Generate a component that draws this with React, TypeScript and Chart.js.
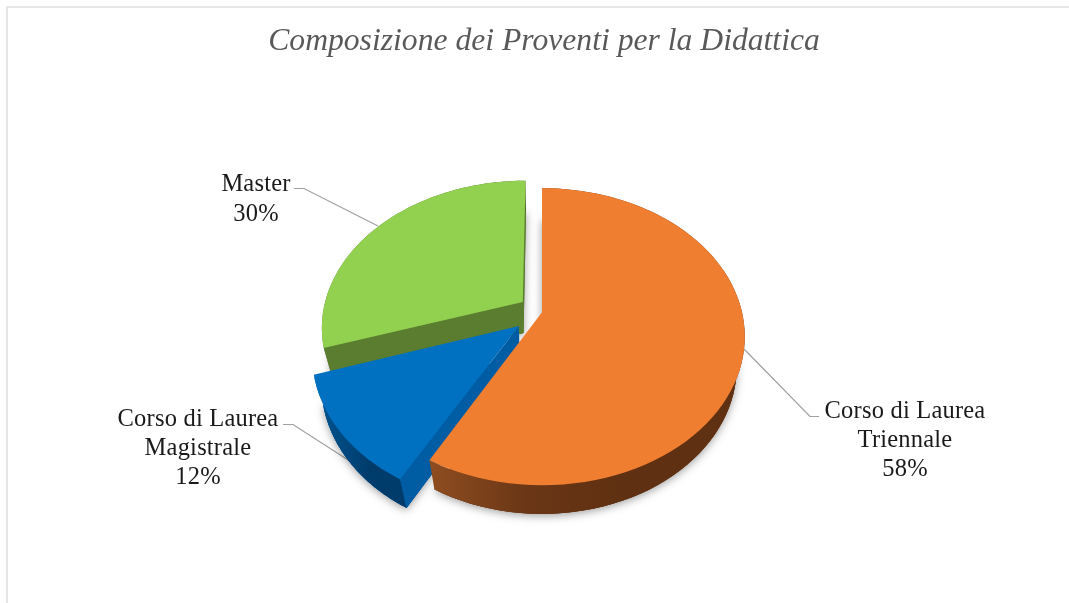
import React, { useEffect, useRef } from "react";
import { Chart, registerables } from "chart.js";

Chart.register(...registerables);

const categories = ["Corso di Laurea Triennale", "Corso di Laurea Magistrale", "Master"];
const labelLines = [["Corso di Laurea", "Triennale"], ["Corso di Laurea", "Magistrale"], ["Master"]];
const shares = [58, 12, 30];
const explode = [0, 0.148, 0.12];
const topColors = ["#EF7E31", "#0070C0", "#92D050"];
const cutColors = ["#6B3716", "#005CA3", "#5A7D2F"];
const wallStops = [
  ["#8F4D20", "#6B3716", "#5F3011"],
  ["#00548F", "#004A80", "#003C6B"],
  ["#5A7D2F", "#5A7D2F", "#4E6D28"],
];
const paintOrder = [2, 1, 0];

const FONT = '"Liberation Serif", serif';
const TITLE = "Composizione dei Proventi per la Didattica";

const K = 0.165, Q = 0.04, DEPTH = 32, SQUASH = 0.7225, SHIFT_X = -2;

const pie3d = {
  id: "pie3d",
  beforeDraw(chart: any) {
    const c = chart.ctx;
    c.save();
    c.fillStyle = "#ffffff";
    c.fillRect(0, 0, chart.width, chart.height);
    c.fillStyle = "#E6E6E6";
    c.fillRect(6, 6, 2, chart.height - 6);
    c.fillRect(6, 6, chart.width - 6, 2);
    c.restore();
  },
  beforeDatasetsDraw(chart: any) {
    const c = chart.ctx;
    const arcs = chart.getDatasetMeta(0).data;
    const first = arcs[0];
    const cx = first.x + SHIFT_X, cy = first.y, R = first.outerRadius;
    const proj = (u: number, v: number, z: number) => {
      const w = 1 - K * v + Q * z;
      return [cx + (R * u) / w, cy + (R * SQUASH * v + DEPTH * z) / w];
    };
    const poly = (pts: number[][]) => {
      c.beginPath();
      pts.forEach((p, i) => (i ? c.lineTo(p[0], p[1]) : c.moveTo(p[0], p[1])));
      c.closePath();
    };

    // leader lines
    c.save();
    c.strokeStyle = "#A0A0A0";
    c.lineWidth = 1.2;
    [
      [[744, 349], [810, 416.5], [819, 416.5]],
      [[352, 462.5], [293, 424.5], [283, 424.5]],
      [[378, 226], [304, 188.5], [294, 188.5]],
    ].forEach((l) => {
      c.beginPath();
      l.forEach((p, i) => (i ? c.lineTo(p[0], p[1]) : c.moveTo(p[0], p[1])));
      c.stroke();
    });
    c.restore();

    paintOrder.forEach((i) => {
      const el = arcs[i];
      const a0 = el.startAngle, a1 = el.endAngle;
      const mid = (a0 + a1) / 2;
      const ou = Math.cos(mid) * explode[i], ov = Math.sin(mid) * explode[i];
      const ring = (z: number) => {
        const pts: number[][] = [];
        const n = 80;
        for (let s = 0; s <= n; s++) {
          const a = a0 + ((a1 - a0) * s) / n;
          pts.push(proj(ou + Math.cos(a), ov + Math.sin(a), z));
        }
        return pts;
      };
      const top = ring(0), bottom = ring(1);
      const apexT = proj(ou, ov, 0), apexB = proj(ou, ov, 1);
      const topFace = [apexT, ...top];
      const botFace = [apexB, ...bottom];
      const outer = [...top, ...bottom.slice().reverse()];

      c.save();
      c.shadowColor = "rgba(0,0,0,0.38)";
      c.shadowBlur = 9;
      c.shadowOffsetY = 2;
      c.fillStyle = cutColors[i];
      poly(botFace); c.fill();
      c.restore();

      c.fillStyle = cutColors[i];
      poly(botFace); c.fill();
      const xs = outer.map((p) => p[0]);
      const g = c.createLinearGradient(Math.min(...xs), 0, Math.max(...xs), 0);
      g.addColorStop(0, wallStops[i][0]);
      g.addColorStop(0.3, wallStops[i][1]);
      g.addColorStop(0.6, wallStops[i][2]);
      g.addColorStop(1, wallStops[i][2]);
      c.fillStyle = g;
      poly(outer); c.fill();

      c.fillStyle = cutColors[i];
      if (Math.sin(a0 - Math.PI / 2) > 0.01) {
        poly([apexT, top[0], bottom[0], apexB]); c.fill();
      }
      if (Math.sin(a1 + Math.PI / 2) > 0.01) {
        poly([apexT, top[top.length - 1], bottom[bottom.length - 1], apexB]); c.fill();
      }
      c.fillStyle = el.options.backgroundColor;
      poly(topFace); c.fill();
    });

    // data labels
    const total = shares.reduce((s, x) => s + x, 0);
    const spots = [
      { x: 905, y: 417.7 },
      { x: 198, y: 425.7 },
      { x: 256, y: 190.7 },
    ];
    c.save();
    c.fillStyle = "#1A1A1A";
    c.font = `24.5px ${FONT}`;
    (c as any).letterSpacing = "0.2px";
    c.textAlign = "center";
    c.textBaseline = "alphabetic";
    shares.forEach((v, i) => {
      const lines = [...labelLines[i], `${Math.round((v / total) * 100)}%`];
      lines.forEach((t, j) => c.fillText(t, spots[i].x, spots[i].y + j * (i === 2 ? 30 : 29.2)));
    });
    c.restore();
    return false;
  },
};

export default function App() {
  const ref = useRef<HTMLCanvasElement>(null);
  useEffect(() => {
    const chart = new Chart(ref.current!, {
      type: "pie",
      data: {
        labels: categories,
        datasets: [{ data: shares, backgroundColor: topColors, borderWidth: 0 }],
      },
      options: {
        animation: false,
        responsive: false,
        radius: 200,
        events: [],
        layout: { padding: { left: 19, right: 0, top: 0, bottom: 50 } },
        plugins: {
          legend: { display: false },
          tooltip: { enabled: false },
          title: {
            display: true,
            text: TITLE,
            color: "#595959",
            font: { family: FONT, style: "italic", weight: "normal", size: 31.65, lineHeight: 1.2 },
            padding: { top: 23, bottom: 10.4 },
          },
        },
      } as any,
      plugins: [pie3d],
    });
    return () => chart.destroy();
  }, []);
  return (
    <div style={{ position: "absolute", left: 0, top: 0, width: 1069, height: 603 }}>
      <canvas ref={ref} width={1069} height={603} style={{ display: "block", filter: "blur(0.5px)" }} />
    </div>
  );
}
